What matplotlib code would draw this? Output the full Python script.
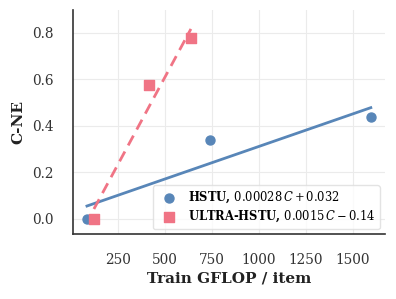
import numpy as np
import matplotlib
matplotlib.use("Agg")
import matplotlib.pyplot as plt

# data
hstu_x = [85, 740, 1595]
hstu_y = [0.0, 0.34, 0.44]
ultra_x = [122, 415, 638]
ultra_y = [0.0, 0.576, 0.78]

# fitted lines shown in the legend
hstu_fit = (0.00028, 0.032)
ultra_fit = (0.0015, -0.14)

xticks = [250, 500, 750, 1000, 1250, 1500]
yticks = [0.0, 0.2, 0.4, 0.6, 0.8]

blue = "#5886b8"
pink = "#f07485"

plt.rcParams["font.family"] = "DejaVu Serif"
plt.rcParams["mathtext.fontset"] = "dejavuserif"

fig = plt.figure(figsize=(3.96, 2.99), dpi=100)
ax = fig.add_axes([0.184, 0.217, 0.788, 0.750])

# HSTU
xs = np.array([min(hstu_x), max(hstu_x)])
ax.plot(xs, hstu_fit[0] * xs + hstu_fit[1], color=blue, lw=2, zorder=2)
ax.scatter(hstu_x, hstu_y, s=42, marker="o", color=blue, zorder=3,
           label=r"HSTU, $0.00028\,C + 0.032$")

# ULTRA-HSTU
xs = np.array([min(ultra_x), max(ultra_x)])
ax.plot(xs, ultra_fit[0] * xs + ultra_fit[1], color=pink, lw=2, ls="--",
        dashes=(4, 2.5), zorder=2)
ax.scatter(ultra_x, ultra_y, s=42, marker="s", color=pink, zorder=3,
           label=r"ULTRA-HSTU, $0.0015\,C - 0.14$")

ax.set_xlim(10, 1670)
ax.set_ylim(-0.065, 0.899)
ax.set_xticks(xticks)
ax.set_yticks(yticks)
ax.tick_params(length=0, labelsize=9.8, colors="#333333", pad=13.5)
ax.grid(True, color="#ebebeb", lw=0.8)
ax.set_axisbelow(True)

for s in ["top", "right"]:
    ax.spines[s].set_visible(False)
for s in ["left", "bottom"]:
    ax.spines[s].set_color("#333333")
    ax.spines[s].set_linewidth(1.2)

ax.set_xlabel("Train GFLOP / item", fontsize=11, fontweight="bold",
              color="#222222", labelpad=3)
ax.set_ylabel("C-NE", fontsize=11, fontweight="bold", color="#222222",
              labelpad=5)

leg = ax.legend(loc="lower right", prop={"size": 8.3, "weight": "bold"},
                frameon=True, borderaxespad=0.45, handletextpad=0.6,
                labelspacing=0.3, borderpad=0.4)
leg.get_frame().set_edgecolor("#dddddd")

fig.savefig("out.png", dpi=100)
